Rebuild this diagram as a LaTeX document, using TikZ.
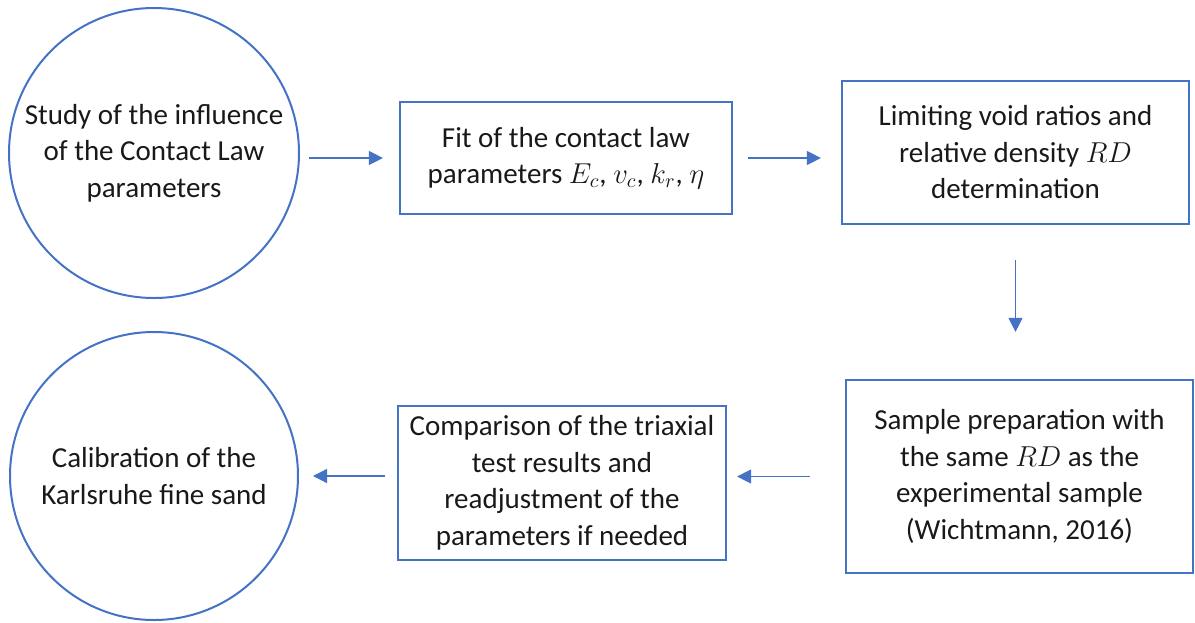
\documentclass[tikz,border=0pt]{standalone}
\usepackage{fontspec}
\setmainfont{Carlito}
\usetikzlibrary{arrows.meta}
\definecolor{ublue}{HTML}{4472C4}
\begin{document}
\begin{tikzpicture}[x=0.5pt,y=-0.5pt,
  every node/.style={font=\fontsize{14.5}{18.25}\selectfont, align=center, text=black!90, inner sep=0pt},
  boxnode/.style={draw=ublue, line width=1.1pt, rectangle},
  circnode/.style={draw=ublue, line width=1pt, circle},
  arr/.style={draw=ublue, line width=0.6pt, -{Triangle[length=7pt,width=7pt]}}]
\useasboundingbox (0,0) rectangle (1195,622);
\node[circnode, minimum size=145pt] (c1) at (154,153) {Study of the influence\\of the Contact Law\\parameters};
\node[boxnode, minimum width=166pt, minimum height=56pt] (b1) at (566,158) {Fit of the contact law\\parameters $E_c$, $v_c$, $k_r$, $\eta$};
\node[boxnode, minimum width=173.5pt, minimum height=71.5pt] (b2) at (1015.5,152.5) {Limiting void ratios and\\relative density $RD$\\determination};
\node[boxnode, minimum width=173.5pt, minimum height=96.5pt] (b3) at (1019.5,476.5) {Sample preparation with\\the same $RD$ as the\\experimental sample\\(Wichtmann, 2016)};
\node[boxnode, minimum width=164pt, minimum height=77pt] (b4) at (562,483) {Comparison of the triaxial\\test results and\\readjustment of the\\parameters if needed};
\node[circnode, minimum size=144pt] (c2) at (154,476) {Calibration of the\\Karlsruhe fine sand};
\draw[arr, shorten <=4.5pt, shorten >=8pt] (c1.east |- b1.west) -- (b1.west);
\draw[arr, shorten <=7.5pt, shorten >=10pt] (b1.east) -- (b1.east -| b2.west);
\draw[arr, shorten <=17.5pt, shorten >=23.5pt] (b2.south) -- (b2.south |- b3.north);
\draw[arr, shorten <=17.5pt, shorten >=5pt] (b3.west) -- (b3.west -| b4.east);
\draw[arr, shorten <=6pt, shorten >=7pt] (c2.east -| b4.west) -- (c2.east);
\end{tikzpicture}
\end{document}
